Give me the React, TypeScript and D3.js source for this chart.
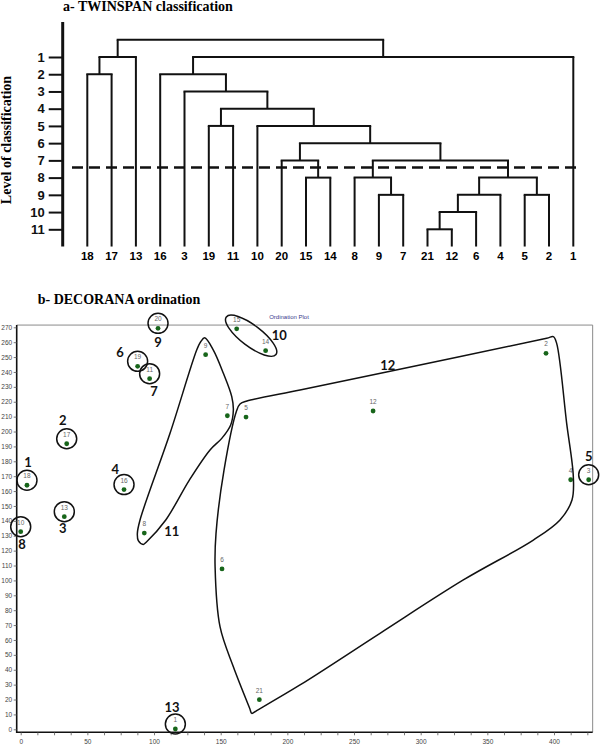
import React, { useEffect, useRef } from "react";
import * as d3 from "d3";

// ---------- a- TWINSPAN classification ----------
const levels = [1, 2, 3, 4, 5, 6, 7, 8, 9, 10, 11];
const cutLevel = 7.42; // dashed line between level 7 and 8
// [node, parent, level]  (leaves hang down to level 12)
const treeRows: [string, string | null, number][] = [
  ["root", null, 0],
  ["A", "root", 1],
  ["A1", "A", 2],
  ["18", "A1", 12],
  ["17", "A1", 12],
  ["13", "A", 12],
  ["B", "root", 1],
  ["C", "B", 2],
  ["16", "C", 12],
  ["D", "C", 3],
  ["3", "D", 12],
  ["E", "D", 4],
  ["F", "E", 5],
  ["19", "F", 12],
  ["11", "F", 12],
  ["G", "E", 5],
  ["10", "G", 12],
  ["H", "G", 6],
  ["I", "H", 7],
  ["20", "I", 12],
  ["K", "I", 8],
  ["15", "K", 12],
  ["14", "K", 12],
  ["J", "H", 7],
  ["L", "J", 8],
  ["8", "L", 12],
  ["N", "L", 9],
  ["9", "N", 12],
  ["7", "N", 12],
  ["M", "J", 8],
  ["O", "M", 9],
  ["Q", "O", 10],
  ["R", "Q", 11],
  ["21", "R", 12],
  ["12", "R", 12],
  ["6", "Q", 12],
  ["4", "O", 12],
  ["P", "M", 9],
  ["5", "P", 12],
  ["2", "P", 12],
  ["1", "B", 12],
];

// ---------- b- DECORANA ordination ----------
const siteIds = ["1", "2", "3", "4", "5", "6", "7", "8", "9", "10", "11", "12", "13", "14", "15", "16", "17", "18", "19", "20", "21"];
const axis1 = [116, 394, 426, 412.5, 169, 151, 155, 92.7, 138.7, 0, 96.7, 264.3, 32.7, 183.7, 162, 77.5, 34.5, 4.7, 87.7, 103, 179];
const axis2 = [0.2, 252.5, 167.6, 167.6, 209.7, 107.7, 210.6, 131.8, 251.6, 132.7, 235.5, 213.8, 142.8, 254.3, 269, 161, 191.8, 163.9, 243.8, 269.3, 19.9];

// single-site groups get a circle
const circleGroups = ["20", "19", "11", "17", "18", "16", "13", "10", "1", "3"];
// group number labels (placed in ordination units)
const groupLabels = ["1", "2", "3", "4", "5", "6", "7", "8", "9", "10", "11", "12", "13"];
const groupLabelX = [5.5, 31.5, 31.5, 71, 426, 74.5, 100, 1, 103, 194, 113.3, 275.3, 113.5];
const groupLabelY = [179.7, 207.7, 135, 174.8, 183.5, 253.4, 227.4, 124.2, 260.3, 264.8, 133.2, 244.7, 15.2];
// group 10 (sites 15,14) enclosed by an ellipse
const ellipseGroup = ["15", "14"];
// hand-drawn outlines of groups 11 and 12 (ordination units)
const hull11: [number, number][] = [
  [138, 263], [144.5, 254.7], [152, 239.1], [158.3, 223.4], [159.5, 214.4], [157.5, 204.4],
  [150.8, 195.4], [142, 187.6], [126.5, 167.4], [108.8, 140.6], [94.5, 126], [92, 124.2],
  [88.2, 126.7], [87.5, 131.6], [89.5, 140.6], [112, 198.8], [132, 254.7], [135, 260.3],
];
const hull12: [number, number][] = [
  [162, 214.1], [164.5, 218.5], [169.7, 220.5], [209.5, 227.9], [275.3, 240.2], [394.5, 262.6],
  [399.5, 263.7], [402, 259.2], [409.5, 205.5], [414.5, 169.6], [413.5, 154], [404.5, 140.6],
  [384.5, 127.1], [332, 100.3], [269.5, 64.5], [209.5, 29.8], [177, 12.6], [173.3, 10.7],
  [171.8, 14], [159.5, 42], [149.5, 68.9], [145.8, 109.2], [146.5, 131.6], [152.5, 174.1],
];

const serif = "'Liberation Serif', 'Times New Roman', serif";
const sans = "'Liberation Sans', Arial, sans-serif";

const App = () => {
  const ref = useRef<SVGSVGElement>(null);

  useEffect(() => {
    const svg = d3.select(ref.current);
    svg.selectAll("*").remove();

    // ================= dendrogram =================
    const g1 = svg.append("g");
    g1.append("text")
      .attr("x", 63).attr("y", 11)
      .attr("font-family", serif).attr("font-weight", "bold").attr("font-size", 14)
      .text("a- TWINSPAN classification");

    const root = d3.stratify<[string, string | null, number]>()
      .id((d) => d[0])
      .parentId((d) => d[1])(treeRows);
    const leafIds = root.leaves().map((d) => d.id as string);
    const lx = d3.scalePoint<string>().domain(leafIds).range([87.3, 573.3]);
    const ly = d3.scaleLinear().domain([1, 11]).range([57, 229.3]);

    const xPos = new Map<string, number>();
    root.eachAfter((n) => {
      if (!n.children) xPos.set(n.id as string, lx(n.id as string) as number);
      else {
        const c = n.children;
        xPos.set(n.id as string, (xPos.get(c[0].id as string)! + xPos.get(c[c.length - 1].id as string)!) / 2);
      }
    });

    const links = g1.append("g").attr("stroke", "#111").attr("stroke-width", 2).attr("fill", "none");
    root.each((n) => {
      if (!n.children) return;
      const y = ly(n.data[2]);
      const c = n.children;
      links.append("line")
        .attr("x1", xPos.get(c[0].id as string)! - 1).attr("x2", xPos.get(c[c.length - 1].id as string)! + 1)
        .attr("y1", y).attr("y2", y);
      c.forEach((ch) => {
        const x = xPos.get(ch.id as string)!;
        links.append("line").attr("x1", x).attr("x2", x).attr("y1", y).attr("y2", ly(ch.data[2]));
      });
    });

    // leaf labels
    g1.append("g").selectAll("text").data(leafIds).join("text")
      .attr("x", (d) => lx(d) as number).attr("y", 259.5)
      .attr("text-anchor", "middle")
      .attr("font-family", sans).attr("font-weight", "bold").attr("font-size", 11.5)
      .text((d) => d);

    // level axis
    g1.append("line").attr("x1", 62.7).attr("x2", 62.7).attr("y1", 22).attr("y2", 246.5)
      .attr("stroke", "#111").attr("stroke-width", 3);
    const levelAxis = g1.append("g").attr("transform", "translate(62.7,0)")
      .call(d3.axisLeft(ly).tickValues(levels).tickSize(14).tickPadding(4).tickFormat(d3.format("d")));
    levelAxis.select(".domain").remove();
    levelAxis.selectAll("line").attr("stroke", "#111").attr("stroke-width", 2);
    levelAxis.selectAll("text").attr("font-family", sans).attr("font-weight", "bold").attr("font-size", 13).attr("fill", "#111");

    g1.append("text")
      .attr("transform", "translate(11,140) rotate(-90)")
      .attr("text-anchor", "middle")
      .attr("font-family", serif).attr("font-weight", "bold").attr("font-size", 14)
      .text("Level of classification");

    // cut line
    g1.append("line").attr("x1", 72).attr("x2", 582).attr("y1", ly(cutLevel)).attr("y2", ly(cutLevel))
      .attr("stroke", "#111").attr("stroke-width", 2.5).attr("stroke-dasharray", "11,6");

    // ================= ordination =================
    const g2 = svg.append("g");
    g2.append("text")
      .attr("x", 37.7).attr("y", 304)
      .attr("font-family", serif).attr("font-weight", "bold").attr("font-size", 14)
      .text("b- DECORANA ordination");

    const x = d3.scaleLinear().domain([0, 400]).range([20.7, 554]);
    const y = d3.scaleLinear().domain([0, 270]).range([729.3, 327.3]);
    const [fx0, fx1] = [x(-3), x(429)];
    const [fy0, fy1] = [y(-2), y(271.5)];

    g2.append("text").attr("x", 289).attr("y", 319).attr("text-anchor", "middle")
      .attr("font-family", sans).attr("font-size", 6).attr("fill", "#3a3a8c").text("Ordination Plot");

    // frame
    g2.append("path").attr("d", `M${fx0},${fy1}H${fx1}V${fy0}`)
      .attr("fill", "none").attr("stroke", "#8a8a8a").attr("stroke-width", 1);
    g2.append("path").attr("d", `M${fx0},${fy1}V${fy0}H${fx1}`)
      .attr("fill", "none").attr("stroke", "#111").attr("stroke-width", 1.6);

    const yAxis = g2.append("g").attr("transform", `translate(${fx0},0)`)
      .call(d3.axisLeft(y).tickValues(d3.range(0, 271, 10)).tickSize(3).tickPadding(1.5));
    const xAxis = g2.append("g").attr("transform", `translate(0,${fy0})`)
      .call(d3.axisBottom(x).tickValues(d3.range(0, 426, 12.5)).tickSize(3).tickPadding(4)
        .tickFormat((d) => (+d % 50 === 0 ? String(d) : "")));
    [yAxis, xAxis].forEach((a) => {
      a.select(".domain").remove();
      a.selectAll("line").attr("stroke", "#555").attr("stroke-width", 0.8);
      a.selectAll("text").attr("font-family", sans).attr("font-size", 6.5).attr("fill", "#444");
    });

    const px = (id: string) => x(axis1[siteIds.indexOf(id)]);
    const py = (id: string) => y(axis2[siteIds.indexOf(id)]);

    // sites
    g2.append("g").selectAll("circle").data(siteIds).join("circle")
      .attr("cx", (d, i) => x(axis1[i])).attr("cy", (d, i) => y(axis2[i])).attr("r", 2.4)
      .attr("fill", "#17651a");
    g2.append("g").selectAll("text").data(siteIds).join("text")
      .attr("x", (d, i) => x(axis1[i])).attr("y", (d, i) => y(axis2[i]) - 7)
      .attr("text-anchor", "middle")
      .attr("font-family", sans).attr("font-size", 6.5).attr("fill", "#666")
      .text((d) => d);

    const outline = g2.append("g").attr("fill", "none").attr("stroke", "#111").attr("stroke-width", 1.5);
    outline.selectAll("circle").data(circleGroups).join("circle")
      .attr("cx", (d) => px(d)).attr("cy", (d) => py(d) - 5).attr("r", 10);

    // ellipse of group 10
    const [ea, eb] = ellipseGroup;
    const ecx = (px(ea) + px(eb)) / 2;
    const ecy = (py(ea) + py(eb)) / 2 - 4;
    const ang = (Math.atan2(py(eb) - py(ea), px(eb) - px(ea)) * 180) / Math.PI;
    const half = Math.hypot(px(eb) - px(ea), py(eb) - py(ea)) / 2;
    outline.append("ellipse")
      .attr("cx", 0).attr("cy", 0).attr("rx", half + 13).attr("ry", 10.5)
      .attr("transform", `translate(${ecx},${ecy}) rotate(${ang})`);

    const hullLine = d3.line<[number, number]>()
      .x((d) => x(d[0])).y((d) => y(d[1]))
      .curve(d3.curveCatmullRomClosed.alpha(0.5));
    outline.append("path").attr("d", hullLine(hull11));
    outline.append("path").attr("d", hullLine(hull12));

    g2.append("g").selectAll("text").data(groupLabels).join("text")
      .attr("x", (d, i) => x(groupLabelX[i])).attr("y", (d, i) => y(groupLabelY[i]))
      .attr("text-anchor", "middle").attr("dominant-baseline", "central")
      .attr("font-family", "Lato, 'Open Sans', sans-serif").attr("font-weight", "bold").attr("font-size", 13)
      .attr("fill", "#111")
      .text((d) => d);
  }, []);

  return (
    <svg
      ref={ref}
      width={601}
      height={750}
      style={{ position: "absolute", left: 0, top: 0, background: "#fff" }}
    />
  );
};

export default App;
